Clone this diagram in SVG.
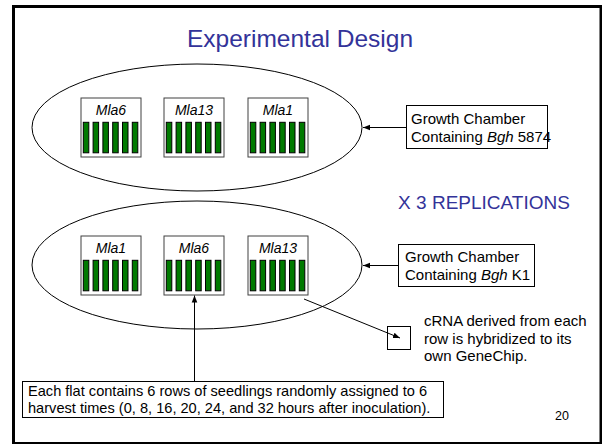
<svg xmlns="http://www.w3.org/2000/svg" width="602" height="444" viewBox="0 0 602 444">
<defs>
<marker id="ah" viewBox="0 0 10 10" refX="10" refY="5" markerWidth="7" markerHeight="7" markerUnits="userSpaceOnUse" orient="auto">
<path d="M0,1 L10,5 L0,9 Z" fill="#000"/>
</marker>
<g id="bars" fill="#007a00" stroke="#000" stroke-width="1">
<rect x="2.3" y="24.3" width="5.5" height="30.5"/>
<rect x="12.1" y="24.3" width="5.5" height="30.5"/>
<rect x="21.9" y="24.3" width="5.5" height="30.5"/>
<rect x="31.7" y="24.3" width="5.5" height="30.5"/>
<rect x="41.5" y="24.3" width="5.5" height="30.5"/>
<rect x="51.3" y="24.3" width="5.5" height="30.5"/>
</g>
</defs>
<style>
.t{font-family:"Liberation Sans",Arial,sans-serif;fill:#000}
.blue{fill:#333399}
.flat{fill:#fff;stroke:#404040;stroke-width:1}
.box{fill:#fff;stroke:#000;stroke-width:1}
.ell{fill:none;stroke:#000;stroke-width:1}
.conn{stroke:#000;stroke-width:1;fill:none}
.lab{font-size:14px;font-style:italic}
</style>
<rect width="602" height="444" fill="#fff"/>
<rect x="13.5" y="6.5" width="587.5" height="437" fill="none" stroke="#000" stroke-width="3"/>
<text class="t blue" x="300" y="47" font-size="24.5" text-anchor="middle">Experimental Design</text>

<g id="chamber1">
<ellipse class="ell" cx="197" cy="127.5" rx="165" ry="63.5"/>
<g id="flat-mla6-a" transform="translate(81,98)">
<rect class="flat" x="0" y="0" width="60" height="59"/>
<text class="t lab" x="30" y="17" text-anchor="middle">Mla6</text>
<use href="#bars"/>
</g>
<g id="flat-mla13-a" transform="translate(164,98)">
<rect class="flat" x="0" y="0" width="60" height="59"/>
<text class="t lab" x="30" y="17" text-anchor="middle">Mla13</text>
<use href="#bars"/>
</g>
<g id="flat-mla1-a" transform="translate(248,98)">
<rect class="flat" x="0" y="0" width="60" height="59"/>
<text class="t lab" x="30" y="17" text-anchor="middle">Mla1</text>
<use href="#bars"/>
</g>
</g>

<g id="label-5874">
<rect class="box" x="406.5" y="105.5" width="141" height="43"/>
<text class="t" x="411" y="124" font-size="15">Growth Chamber</text>
<text class="t" x="411" y="141.5" font-size="15">Containing <tspan font-style="italic">Bgh</tspan> 5874</text>
</g>

<text id="replications" class="t blue" x="484" y="209" font-size="19" text-anchor="middle">X 3 REPLICATIONS</text>

<g id="chamber2">
<ellipse class="ell" cx="197" cy="265" rx="165" ry="64"/>
<g id="flat-mla1-b" transform="translate(81,236)">
<rect class="flat" x="0" y="0" width="60" height="59"/>
<text class="t lab" x="30" y="17" text-anchor="middle">Mla1</text>
<use href="#bars"/>
</g>
<g id="flat-mla6-b" transform="translate(164,236)">
<rect class="flat" x="0" y="0" width="60" height="59"/>
<text class="t lab" x="30" y="17" text-anchor="middle">Mla6</text>
<use href="#bars"/>
</g>
<g id="flat-mla13-b" transform="translate(248,236)">
<rect class="flat" x="0" y="0" width="60" height="59"/>
<text class="t lab" x="30" y="17" text-anchor="middle">Mla13</text>
<use href="#bars"/>
</g>
</g>

<g id="label-k1">
<rect class="box" x="398.5" y="244.5" width="136" height="42"/>
<text class="t" x="405" y="262" font-size="15">Growth Chamber</text>
<text class="t" x="405" y="280" font-size="15">Containing <tspan font-style="italic">Bgh</tspan> K1</text>
</g>

<g id="genechip">
<rect class="box" x="387.5" y="326.5" width="23" height="23"/>
<text class="t" x="424" y="326" font-size="15">cRNA derived from each</text>
<text class="t" x="424" y="344" font-size="15">row is hybridized to its</text>
<text class="t" x="424" y="361" font-size="15">own GeneChip.</text>
</g>

<g id="note">
<rect class="box" x="22.5" y="381.5" width="421" height="36"/>
<text class="t" x="28" y="396" font-size="14.6">Each flat contains 6 rows of seedlings randomly assigned to 6</text>
<text class="t" x="28" y="413" font-size="14.6">harvest times (0, 8, 16, 20, 24, and 32 hours after inoculation).</text>
</g>

<text id="page" class="t" x="555" y="420" font-size="12.5">20</text>

<g id="connectors">
<line class="conn" x1="406" y1="127.5" x2="363" y2="127.5" marker-end="url(#ah)"/>
<line class="conn" x1="398" y1="265.5" x2="363" y2="265.5" marker-end="url(#ah)"/>
<line class="conn" x1="304" y1="299" x2="400" y2="338" marker-end="url(#ah)"/>
<line class="conn" x1="194.5" y1="381" x2="194.5" y2="295.5" marker-end="url(#ah)"/>
</g>
</svg>
